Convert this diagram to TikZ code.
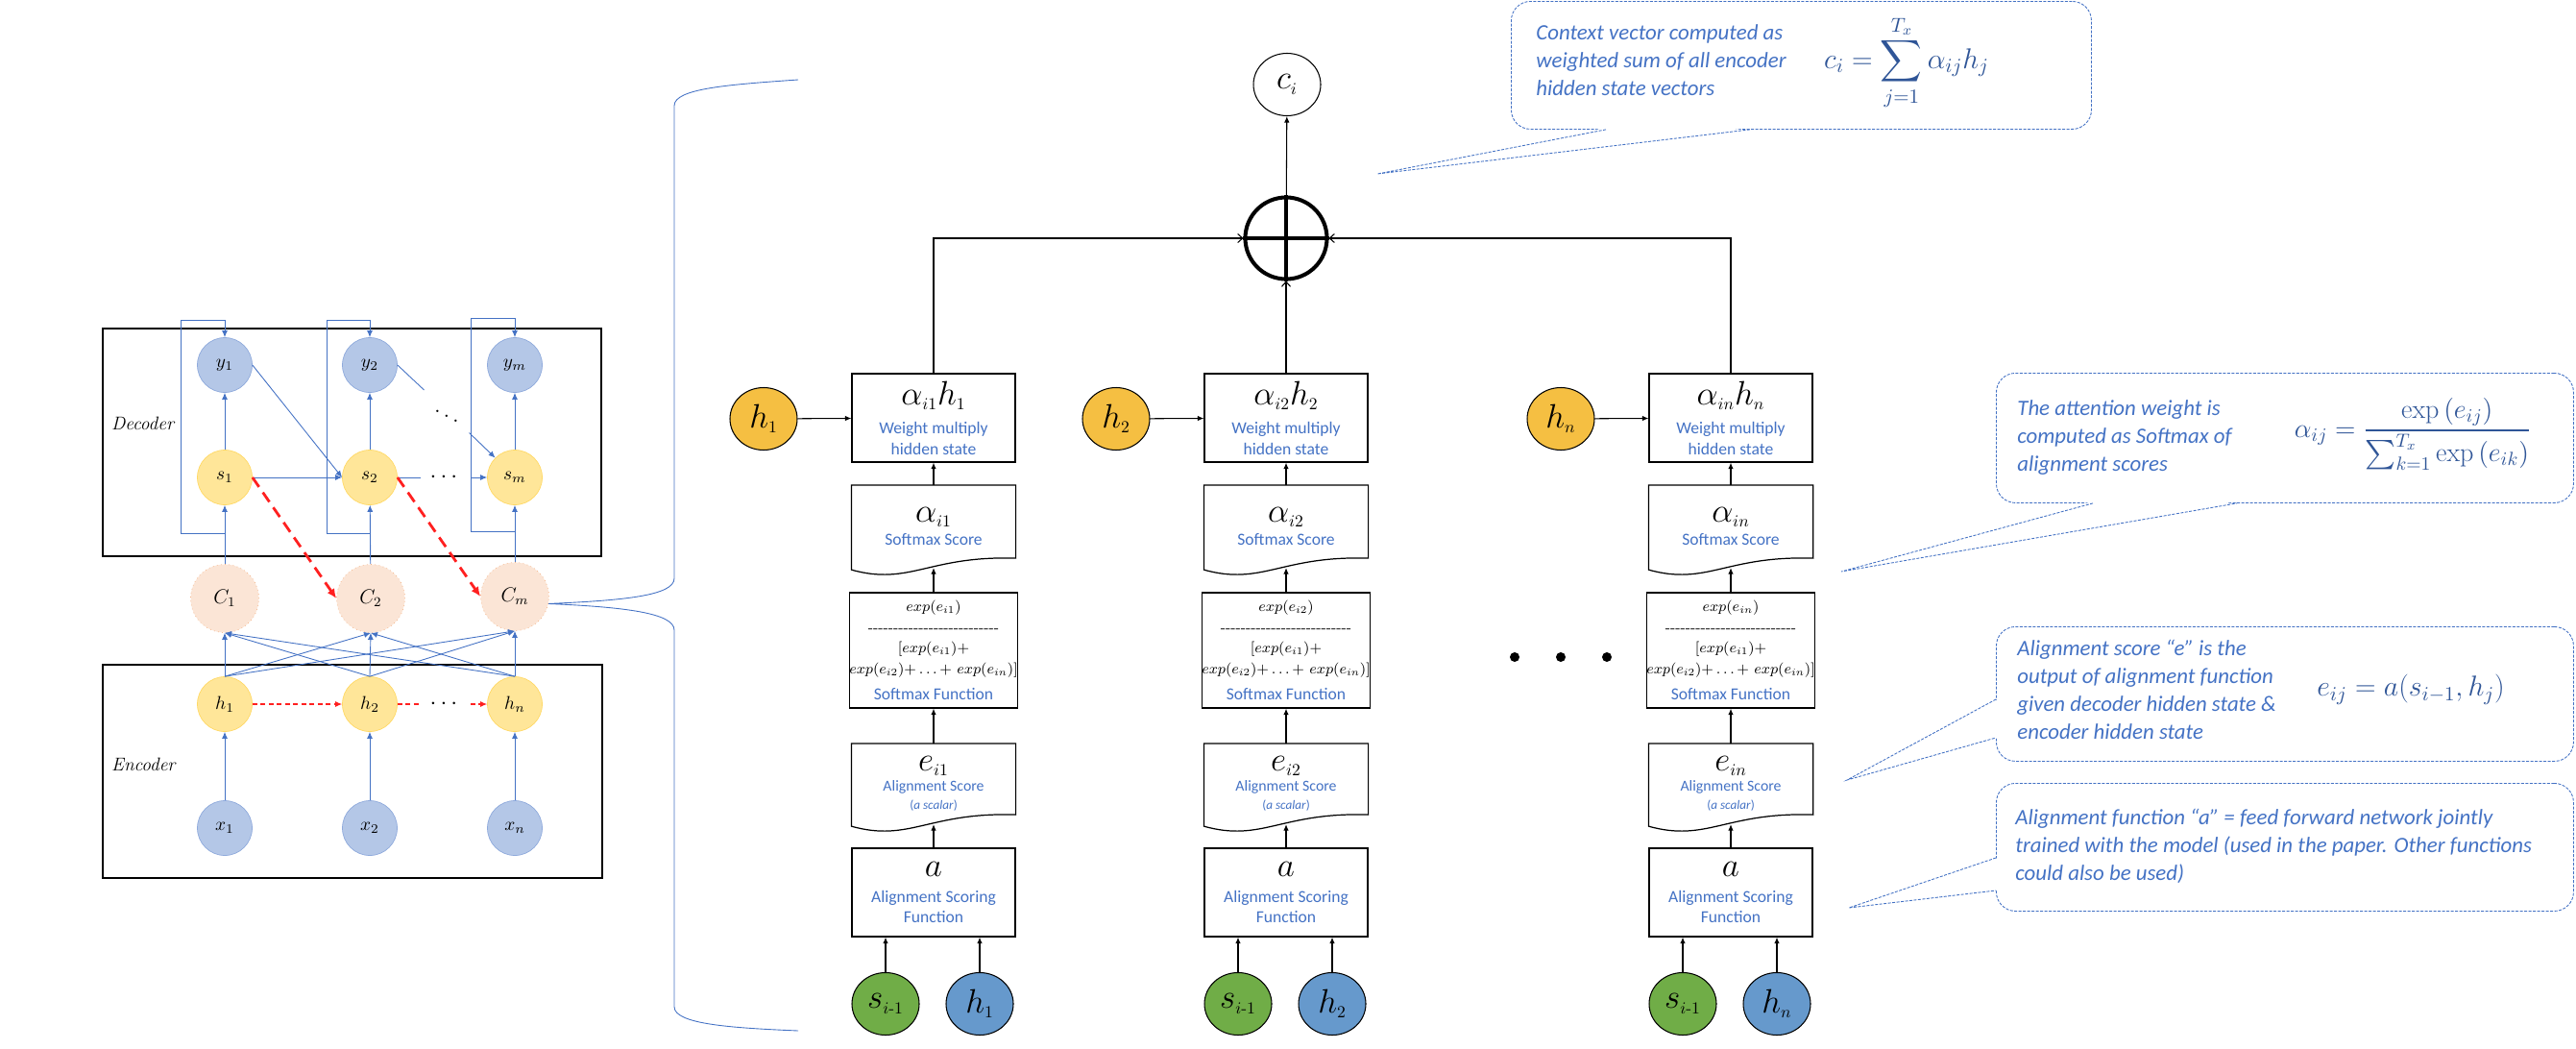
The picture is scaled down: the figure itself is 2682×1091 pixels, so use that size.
\RequirePackage{fix-cm}
\documentclass[tikz,border=0pt]{standalone}
\usepackage{amsmath}
\usepackage{fontspec}
\usetikzlibrary{arrows.meta,calc,shapes.geometric}
\newfontfamily\carlito{Carlito}

\definecolor{lblue}{HTML}{4472C4}
\definecolor{navy}{HTML}{2F5597}
\definecolor{ofill}{HTML}{F5BF42}
\definecolor{gfill}{HTML}{70AD47}
\definecolor{bfill}{HTML}{6699CC}
\definecolor{yfill}{HTML}{FFE699}
\definecolor{yline}{HTML}{FFD966}
\definecolor{xfill}{HTML}{B4C7E7}
\definecolor{xline}{HTML}{8FAADC}
\definecolor{cfill}{HTML}{FBE5D6}
\definecolor{cline}{HTML}{F4B183}
\definecolor{rline}{HTML}{FF2020}

\newcommand\mlab[1]{{\color{black}\fontsize{20}{22}\selectfont$#1$}}
\newcommand\lsub[1]{_{\scriptscriptstyle #1}}
\newcommand\docline[1]{\draw[line width=0.7pt] (#1.north west) -- (#1.north east) -- ($(#1.south east)+(0,-10)$) .. controls ($(#1.south)+(-5,-13)$) and ($(#1.south)+(-25,19)$) .. ($(#1.south west)+(0,2)$) -- cycle;}
\newcommand\dashrow{\hbox to 28mm{\cleaders\hbox{-}\hfill}}
\newcommand\expsum{$exp(e_{i2})\mathord{+}\ldots\mathord{+}\ exp(e_{in})]$}

\tikzset{
    fbox/.style={draw, line width=0.7pt, minimum width=34mm, minimum height=18.4mm, inner sep=0pt, align=center, text=lblue, font=\carlito\fontsize{10}{12.5}\selectfont},
    dbox/.style={fbox, draw=none, minimum height=17mm},
    sfbox/.style={fbox, minimum height=24mm, text=black, font=\fontsize{8.7}{12.2}\selectfont},
    hnode/.style={ellipse, draw, line width=0.6pt, minimum width=14mm, minimum height=13mm, inner sep=0pt},
    karr/.style={line width=0.6pt, -{Latex[length=1.3mm,width=1.1mm]}},
    sumarr/.style={line width=0.6pt, -{Straight Barb[length=1mm,width=1.8mm]}},
    lcirc/.style={circle, minimum size=11.4mm, inner sep=0pt, font=\fontsize{11}{11}\selectfont},
    ynode/.style={lcirc, fill=xfill, draw=xline},
    snode/.style={lcirc, fill=yfill, draw=yline},
    cnode/.style={lcirc, fill=cfill, draw=cline, dotted, minimum size=14.2mm, font=\fontsize{12}{12}\selectfont},
    barr/.style={draw=lblue, line width=0.5pt, -{Latex[length=1.4mm,width=1.2mm]}},
    bline/.style={draw=lblue, line width=0.5pt},
    rdash/.style={draw=rline, line width=1.6pt, dash pattern=on 2.4mm off 1.4mm, -{Latex[length=2mm,width=1.8mm]}},
    rthin/.style={draw=rline, line width=0.6pt, dash pattern=on 1mm off 0.7mm},
    dotsn/.style={inner sep=1.8mm, font=\fontsize{14}{14}\selectfont},
    note/.style={draw=lblue, line width=0.5pt, dash pattern=on 0.6mm off 0.3mm, rounded corners=4mm, anchor=north west, minimum width=120.2mm},
    notep/.style={draw=lblue, line width=0.5pt, dash pattern=on 0.6mm off 0.3mm},
    ntext/.style={anchor=north west, inner sep=0pt, align=left, text=lblue, font=\carlito\itshape\fontsize{13}{16.5}\selectfont},
    neq/.style={text=navy, inner sep=0pt},
    part/.style={anchor=west, font=\itshape\fontsize{11}{11}\selectfont}
}

\begin{document}
\begin{tikzpicture}[x=0.2mm, y=-0.2mm]
    \useasboundingbox (0,0) rectangle (2682,1091);

    \draw[line width=0.6pt] (107,342) rectangle (626,579);
    \draw[line width=0.6pt] (107,692) rectangle (627,914);
    \node[part] (dec) at (110,441) {Decoder};
    \node[part] (enc) at (110,796) {Encoder};

    \node[ynode] (y1) at (234,380) {$y_1$};
    \node[ynode] (y2) at (385,380) {$y_2$};
    \node[ynode] (ym) at (536,380) {$y_m$};
    \node[snode] (s1) at (234,497) {$s_1$};
    \node[snode] (s2) at (385,497) {$s_2$};
    \node[snode] (sm) at (536,497) {$s_m$};
    \node[cnode] (c1) at (234,623) {$C_1$};
    \node[cnode] (c2) at (386,623) {$C_2$};
    \node[cnode] (cm) at (536,621) {$C_m$};
    \node[snode] (eh1) at (234,733) {$h_1$};
    \node[snode] (eh2) at (385,733) {$h_2$};
    \node[snode] (ehn) at (536,733) {$h_n$};
    \node[ynode] (x1) at (234,862) {$x_1$};
    \node[ynode] (x2) at (385,862) {$x_2$};
    \node[ynode] (xn) at (536,862) {$x_n$};
    \node[dotsn] (sdots) at (464,497) {$\cdots$};
    \node[dotsn] (ydots) at (465,428) {$\ddots$};
    \node[dotsn] (hdots) at (464,733) {$\cdots$};

    \draw[barr] (s1) -- (y1);
    \draw[barr] (s2) -- (y2);
    \draw[barr] (sm) -- (ym);
    \draw[barr] (c1) -- (s1);
    \draw[barr] (c2) -- (s2);
    \draw[barr] (cm) -- (sm);
    \draw[barr] (c1.north) ++(0,-32) -| ++(-46,-222) -| (y1.north);
    \draw[barr] (c2.north) ++(0,-32) -| ++(-46,-222) -| (y2.north);
    \draw[barr] (cm.north) ++(0,-32) -| ++(-46,-222) -| (ym.north);
    \draw[barr] (s1) -- (s2);
    \draw[barr] (y1.east) -- (s2.west);
    \draw[bline] (s2) -- (sdots);
    \draw[barr] (sdots) -- (sm);
    \draw[bline] (y2.east) -- (ydots);
    \draw[barr] (ydots) -- (sm.north west);
    \draw[rdash] (s1.east) -- (c2.west);
    \draw[rdash] (s2.east) -- (cm.west);

    \draw[barr] (x1) -- (eh1);
    \draw[barr] (x2) -- (eh2);
    \draw[barr] (xn) -- (ehn);
    \draw[barr] (eh1.north) -- (c1.south);
    \draw[barr] (eh1.north) -- (c2.south);
    \draw[barr] (eh1.north) -- (cm.south);
    \draw[barr] (eh2.north) -- (c1.south);
    \draw[barr] (eh2.north) -- (c2.south);
    \draw[barr] (eh2.north) -- (cm.south);
    \draw[barr] (ehn.north) -- (c1.south);
    \draw[barr] (ehn.north) -- (c2.south);
    \draw[barr] (ehn.north) -- (cm.south);
    \draw[rthin, -{Latex[length=1.4mm,width=1.2mm]}] (eh1) -- (eh2);
    \draw[rthin] (eh2) -- (hdots);
    \draw[rthin, -{Latex[length=1.4mm,width=1.2mm]}] (hdots) -- (ehn);

    \draw[bline] (831,83) .. controls (760,88) and (702,92) .. (702,110) -- (702,602) .. controls (702,620) and (650,625) .. (cm.-12) .. controls (650,632) and (702,638) .. (702,656) -- (702,1048) .. controls (702,1066) and (760,1070) .. (831,1073);

    \node[fbox] (w1) at (972,435) {\mlab{\alpha\lsub{i1}h\lsub{1}}\\[1.6mm] Weight multiply\\hidden state};
    \node[dbox] (sc1) at (972,548) {\mlab{\alpha\lsub{i1}}\\[0.4mm] Softmax Score};
    \docline{sc1}
    \node[sfbox] (sf1) at (972,677) {$exp(e_{i1})$\\ \dashrow\\ $[exp(e_{i1})+$\\ \expsum\\[1.2mm] {\color{lblue}\carlito\fontsize{10}{12}\selectfont Softmax Function}};
    \node[dbox, minimum height=16.6mm, font=\carlito\fontsize{9}{11}\selectfont] (es1) at (972,816) {\mlab{e\lsub{i1}}\\[0.4mm] Alignment Score\\ {\fontsize{7.5}{9}\selectfont(\textit{a scalar})}};
    \docline{es1}
    \node[fbox] (af1) at (972,929) {\mlab{a}\\[1mm] Alignment Scoring\\Function};
    \node[hnode, fill=gfill] (sp1) at (922,1045) {\mlab{s\lsub{i\text{-}1}}};
    \node[hnode, fill=bfill] (hb1) at (1020,1045) {\mlab{h\lsub{1}}};
    \node[hnode, fill=ofill] (hw1) at (795,436) {\mlab{h\lsub{1}}};

    \node[fbox] (w2) at (1339,435) {\mlab{\alpha\lsub{i2}h\lsub{2}}\\[1.6mm] Weight multiply\\hidden state};
    \node[dbox] (sc2) at (1339,548) {\mlab{\alpha\lsub{i2}}\\[0.4mm] Softmax Score};
    \docline{sc2}
    \node[sfbox] (sf2) at (1339,677) {$exp(e_{i2})$\\ \dashrow\\ $[exp(e_{i1})+$\\ \expsum\\[1.2mm] {\color{lblue}\carlito\fontsize{10}{12}\selectfont Softmax Function}};
    \node[dbox, minimum height=16.6mm, font=\carlito\fontsize{9}{11}\selectfont] (es2) at (1339,816) {\mlab{e\lsub{i2}}\\[0.4mm] Alignment Score\\ {\fontsize{7.5}{9}\selectfont(\textit{a scalar})}};
    \docline{es2}
    \node[fbox] (af2) at (1339,929) {\mlab{a}\\[1mm] Alignment Scoring\\Function};
    \node[hnode, fill=gfill] (sp2) at (1289,1045) {\mlab{s\lsub{i\text{-}1}}};
    \node[hnode, fill=bfill] (hb2) at (1387,1045) {\mlab{h\lsub{2}}};
    \node[hnode, fill=ofill] (hw2) at (1162,436) {\mlab{h\lsub{2}}};

    \node[fbox] (w3) at (1802,435) {\mlab{\alpha\lsub{in}h\lsub{n}}\\[1.6mm] Weight multiply\\hidden state};
    \node[dbox] (sc3) at (1802,548) {\mlab{\alpha\lsub{in}}\\[0.4mm] Softmax Score};
    \docline{sc3}
    \node[sfbox] (sf3) at (1802,677) {$exp(e_{in})$\\ \dashrow\\ $[exp(e_{i1})+$\\ \expsum\\[1.2mm] {\color{lblue}\carlito\fontsize{10}{12}\selectfont Softmax Function}};
    \node[dbox, minimum height=16.6mm, font=\carlito\fontsize{9}{11}\selectfont] (es3) at (1802,816) {\mlab{e\lsub{in}}\\[0.4mm] Alignment Score\\ {\fontsize{7.5}{9}\selectfont(\textit{a scalar})}};
    \docline{es3}
    \node[fbox] (af3) at (1802,929) {\mlab{a}\\[1mm] Alignment Scoring\\Function};
    \node[hnode, fill=gfill] (sp3) at (1752,1045) {\mlab{s\lsub{i\text{-}1}}};
    \node[hnode, fill=bfill] (hb3) at (1850,1045) {\mlab{h\lsub{n}}};
    \node[hnode, fill=ofill] (hw3) at (1625,436) {\mlab{h\lsub{n}}};

    \node[circle, draw, line width=2.3pt, minimum size=17mm, inner sep=0pt] (sum) at (1339,248) {};
    \draw[line width=2.3pt] (sum.north) -- (sum.south) (sum.west) -- (sum.east);
    \node[hnode] (ci) at (1340,88) {\mlab{c\lsub{i}}};

    \draw[karr] (sp1) -- (sp1 |- af1.south);
    \draw[karr] (hb1) -- (hb1 |- af1.south);
    \draw[karr] (af1) -- (es1);
    \draw[karr] (es1) -- (sf1);
    \draw[karr] (sf1) -- (sc1);
    \draw[karr] (sc1) -- (w1);
    \draw[karr] (hw1) -- (w1);
    \draw[karr] (sp2) -- (sp2 |- af2.south);
    \draw[karr] (hb2) -- (hb2 |- af2.south);
    \draw[karr] (af2) -- (es2);
    \draw[karr] (es2) -- (sf2);
    \draw[karr] (sf2) -- (sc2);
    \draw[karr] (sc2) -- (w2);
    \draw[karr] (hw2) -- (w2);
    \draw[karr] (sp3) -- (sp3 |- af3.south);
    \draw[karr] (hb3) -- (hb3 |- af3.south);
    \draw[karr] (af3) -- (es3);
    \draw[karr] (es3) -- (sf3);
    \draw[karr] (sf3) -- (sc3);
    \draw[karr] (sc3) -- (w3);
    \draw[karr] (hw3) -- (w3);
    \draw[sumarr] (w1.north) |- (sum.west);
    \draw[sumarr] (w2) -- (sum);
    \draw[sumarr] (w3.north) |- (sum.east);
    \draw[karr] (sum) -- (ci);

    \fill (1577,684) circle [radius=1mm];
    \fill (1625,684) circle [radius=1mm];
    \fill (1673,684) circle [radius=1mm];

    \node[note, minimum width=120.8mm, minimum height=26.6mm] (n1) at (1573,1) {};
    \coordinate (t1) at (1434,181);
    \fill[white] ($(n1.south west)+(99,-2)$) -- (t1) -- ($(n1.south west)+(249,-2)$) -- cycle;
    \draw[notep] ($(n1.south west)+(99,0)$) -- (t1) -- ($(n1.south west)+(249,0)$);
    \node[ntext] (n1txt) at (1599,25) {Context vector computed as\\weighted sum of all encoder\\hidden state vectors};
    \node[neq, font=\fontsize{17}{20}\selectfont] (n1eq) at (1985,65) {$c_i=\displaystyle\sum_{j=1}^{T_x}\alpha_{ij}h_j$};

    \node[note, minimum height=27mm] (n2) at (2078,388) {};
    \coordinate (t2) at (1917,595);
    \fill[white] ($(n2.south west)+(101,-2)$) -- (t2) -- ($(n2.south west)+(251,-2)$) -- cycle;
    \draw[notep] ($(n2.south west)+(101,0)$) -- (t2) -- ($(n2.south west)+(251,0)$);
    \node[ntext] (n2txt) at (2100,416) {The attention weight is\\computed as Softmax of\\alignment scores};
    \node[neq, font=\fontsize{16}{19}\selectfont] (n2eq) at (2512,452) {$\alpha_{ij}=\dfrac{\exp\left(e_{ij}\right)}{\sum_{k=1}^{T_x}\exp\left(e_{ik}\right)}$};

    \node[note, minimum height=28mm] (n3) at (2078,652) {};
    \coordinate (t3) at (1923,812);
    \fill[white] ($(n3.north west)+(2,76)$) -- (t3) -- ($(n3.north west)+(2,116)$) -- cycle;
    \draw[notep] ($(n3.north west)+(0,76)$) -- (t3) -- ($(n3.north west)+(0,116)$);
    \node[ntext] (n3txt) at (2100,666) {Alignment score “e” is the\\output of alignment function\\given decoder hidden state \&\\encoder hidden state};
    \node[neq, font=\fontsize{17}{20}\selectfont] (n3eq) at (2510,718) {$e_{ij}=a(s_{i-1},h_j)$};

    \node[note, minimum height=26.6mm] (n4) at (2078,815) {};
    \coordinate (t4) at (1925,945);
    \fill[white] ($(n4.north west)+(2,78)$) -- (t4) -- ($(n4.north west)+(2,112)$) -- cycle;
    \draw[notep] ($(n4.north west)+(0,78)$) -- (t4) -- ($(n4.north west)+(0,112)$);
    \node[ntext] (n4txt) at (2098,842) {Alignment function “a” = feed forward network jointly\\trained with the model (used in the paper. Other functions\\could also be used)};
\end{tikzpicture}
\end{document}
